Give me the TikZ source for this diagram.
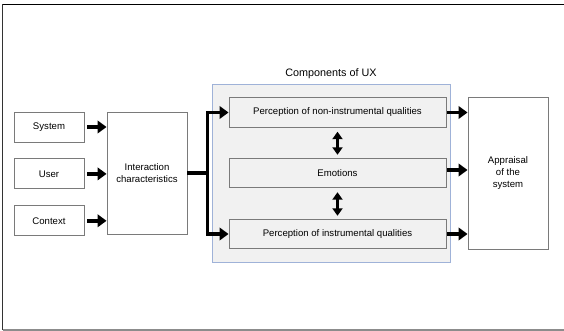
\documentclass[tikz,border=0pt]{standalone}
\usepackage{fontspec}
\setmainfont{Liberation Sans}
\usetikzlibrary{arrows.meta, positioning}
\definecolor{boxgray}{HTML}{7A7A7A}
\definecolor{compfill}{HTML}{F1F1F1}
\definecolor{compblue}{HTML}{9FB2D8}
\tikzset{
    box/.style={rectangle, draw=boxgray, line width=0.9pt, fill=white, align=center, inner sep=0pt, font=\fontsize{9.6}{12}\selectfont},
    innerbox/.style={box, fill=compfill, minimum width=217pt, minimum height=29.5pt},
    group/.style={rectangle, draw=compblue, line width=0.8pt, fill=compfill, minimum width=238pt, minimum height=178pt},
    arrow/.style={-{Triangle[length=9pt,width=12.5pt]}, line width=3.5pt},
    doublearrow/.style={{Triangle[length=7.5pt,width=10pt]}-{Triangle[length=7.5pt,width=10pt]}, line width=3pt, shorten <=4pt, shorten >=3pt},
    line/.style={line width=3.5pt}
}

\begin{document}
\begin{tikzpicture}[x=1pt, y=-1pt]
    \useasboundingbox (0,0) rectangle (564,331);
    % frame of the screenshot
    \draw[black, line width=1.2pt] (3,4.5) -- (564,4.5);
    \draw[black!80, line width=1.2pt] (2.7,4.5) -- (2.7,330);
    \draw[black!45, line width=1.2pt] (3,330) -- (564,330);

    % inputs (left)
    \node[box, minimum width=70pt, minimum height=30pt] (system) at (49,127) {System};
    \node[box, minimum width=70pt, minimum height=30pt, below=16pt of system] (user) {User};
    \node[box, minimum width=70pt, minimum height=30pt, below=16pt of user] (context) {Context};

    % interaction
    \node[box, minimum width=80pt, minimum height=122pt] (interaction) at (147,173) {Interaction\\characteristics};

    % components of UX
    \node[group] (components) at (331,173) {};
    \node[font=\fontsize{10.8}{12}\selectfont, above=1pt of components.north] (components_title) {Components of UX};
    \node[innerbox] (perc_noninstr) at (337.5,112.5) {Perception of non-instrumental qualities};
    \node[innerbox] (emotions) at (337.5,173) {Emotions};
    \node[innerbox] (perc_instr) at (337.5,234) {Perception of instrumental qualities};

    % appraisal
    \node[box, minimum width=80pt, minimum height=152pt] (appraisal) at (508,173) {Appraisal\\of the\\system};

    % Arrows
    \draw[arrow, shorten <=3pt] (system.east) -- (interaction.west |- system.east);
    \draw[arrow, shorten <=3pt] (user.east) -- (interaction.west |- user.east);
    \draw[arrow, shorten <=3pt] (context.east) -- (interaction.west |- context.east);

    \draw[line] (interaction.east) -- ++(20,0) coordinate (branch);
    \draw[arrow] (branch) |- (perc_noninstr.west);
    \draw[arrow] (branch) |- (perc_instr.west);

    \draw[doublearrow] (perc_noninstr.south) -- (emotions.north);
    \draw[doublearrow] (emotions.south) -- (perc_instr.north);

    \coordinate (emotions_out) at ([yshift=3pt]emotions.east);
    \draw[arrow, shorten <=1pt] (perc_noninstr.east) -- (appraisal.west |- perc_noninstr.east);
    \draw[arrow, shorten <=1pt] (emotions_out) -- (appraisal.west |- emotions_out);
    \draw[arrow, shorten <=1pt] (perc_instr.east) -- (appraisal.west |- perc_instr.east);
\end{tikzpicture}
\end{document}
